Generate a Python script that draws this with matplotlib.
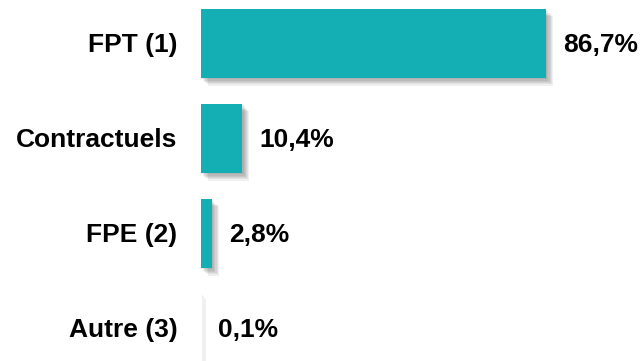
import matplotlib
matplotlib.use('Agg')
import matplotlib.pyplot as plt
import matplotlib.patheffects as pe

categories = ['FPT (1)', 'Contractuels', 'FPE (2)', 'Autre (3)']
values = [86.7, 10.4, 2.8, 0.1]
value_labels = ['86,7%', '10,4%', '2,8%', '0,1%']

plt.rcParams['font.family'] = ['Liberation Sans', 'DejaVu Sans']

fig = plt.figure(figsize=(6.43, 3.61), dpi=100)
ax = fig.add_axes([201 / 643, 0, 1 - 201 / 643, 1])

# soft drop shadow made of stacked offsets
shadow = [pe.SimplePatchShadow(offset=(o, -o * 1.1), shadow_rgbFace='#000000', alpha=0.06)
          for o in (0.8, 1.6, 2.4, 3.2, 4.0, 4.8)]

pos = list(range(len(categories)))
bars = ax.barh(pos, values, height=0.73, color='#14AEB5', linewidth=0)
for b in bars:
    b.set_path_effects(shadow + [pe.Normal()])

ax.set_xlim(0, 111)
ax.set_ylim(3.342, -0.458)
ax.axis('off')

for y, v, lab, cat in zip(pos, values, value_labels, categories):
    ax.annotate(lab, (v, y), xytext=(12, -1), textcoords='offset points',
                ha='left', va='center', fontsize=19, fontweight='bold')
    ax.annotate(cat, (0, y), xytext=(-17, -1), textcoords='offset points',
                ha='right', va='center', fontsize=19, fontweight='bold')

fig.savefig('out.png', dpi=100)
